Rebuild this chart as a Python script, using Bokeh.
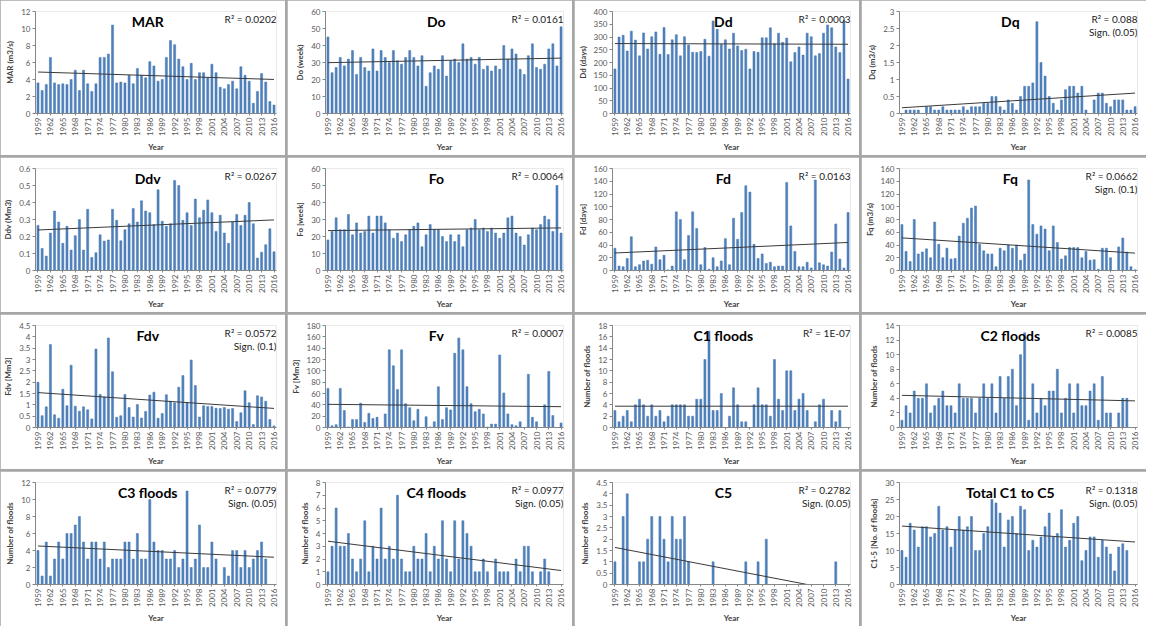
import numpy as np
from bokeh.plotting import figure
from bokeh.layouts import gridplot
from bokeh.models import Label, FixedTicker, Range1d, ColumnDataSource, NumeralTickFormatter
from bokeh.embed import file_html
from bokeh.resources import INLINE

# Years of record and the labelled years on every x axis
years = list(range(1959, 2017))
tick_years = list(range(1959, 2017, 3))

# Annual series, 1959-2016 (None = no value for that year)
mar = [3.6, 2.7, 3.4, 6.6, 3.6, 3.4, 3.5, 3.4, 4.0, 5.1, 2.7, 5.1, 3.5, 2.6, 3.5, 6.6, 6.6, 7.0, 10.4, 3.6,
       3.7, 3.6, 4.5, 3.5, 5.3, 4.5, 4.2, 6.1, 5.6, 3.8, 4.0, 6.6, 8.6, 8.1, 6.4, 5.5, 4.0, 5.9, 4.0, 4.8,
       4.8, 4.2, 5.8, 4.8, 3.1, 2.9, 3.4, 3.8, 2.9, 5.5, 4.5, 3.8, 1.2, 2.6, 4.7, 3.7, 1.4, 1.0]
do_weeks = [45, 24, 27, 33, 28, 32, 37, 23, 33, 27, 25, 38, 25, 37, 33, 30, 37, 31, 29, 33,
            37, 33, 28, 34, 16, 24, 28, 26, 34, 22, 31, 32, 30, 41, 32, 33, 29, 33, 26, 28,
            25, 28, 26, 40, 32, 38, 35, 26, 23, 34, 41, 27, 26, 29, 38, 41, 28, 51]
dd_days = [175, 300, 307, 245, 323, 288, 226, 316, 253, 301, 320, 232, 337, 231, 289, 309, 226, 301, 269, 240,
           239, 243, 291, 225, 363, 330, 271, 289, 253, 315, 265, 247, 252, 175, 243, 240, 297, 297, 336, 274,
           315, 279, 296, 203, 239, 261, 229, 315, 301, 226, 235, 315, 347, 336, 261, 239, 365, 135]
dq = [0, 0.1, 0.1, 0.1, 0.1, 0, 0.2, 0.2, 0.1, 0.1, 0.2, 0.1, 0.1, 0.1, 0.1, 0.2, 0.1, 0.2, 0.2, 0.2,
      0.3, 0.3, 0.5, 0.5, 0.2, 0.1, 0.4, 0.3, 0.1, 0.5, 0.8, 0.8, 0.9, 2.7, 1.5, 1.1, 0.5, 0.3, 0.1, 0.4,
      0.7, 0.8, 0.8, 0.6, 0.8, 0.1, 0, 0.4, 0.6, 0.6, 0.3, 0.2, 0.4, 0.4, 0.4, 0.1, 0.1, 0.2]
ddv = [0.265, 0.13, 0.085, 0.22, 0.35, 0.285, 0.16, 0.26, 0.12, 0.205, 0.30, 0.12, 0.36, 0.077, 0.105, 0.21,
       0.173, 0.18, 0.36, 0.295, 0.175, 0.24, 0.275, 0.365, 0.285, 0.41, 0.35, 0.34, 0.27, 0.475, 0.29, 0.26,
       0.275, 0.53, 0.50, 0.295, 0.34, 0.265, 0.42, 0.31, 0.355, 0.415, 0.34, 0.23, 0.325, 0.22, 0.16, 0.285,
       0.33, 0.265, 0.325, 0.40, 0.275, 0.073, 0.108, 0.152, 0.245, 0.11]
fo_weeks = [18, 23, 31, 24, 24, 33, 21, 28, 22, 23, 32, 22, 32, 32, 28, 24, 19, 22, 17, 21,
            24, 26, 28, 14, 21, 27, 24, 24, 20, 17, 21, 17, 21, 14, 24, 25, 30, 24, 25, 23,
            25, 22, 19, 22, 31, 32, 22, 20, 15, 21, 25, 24, 27, 32, 30, 23, 50, 22]
fd_days = [35, 7, 6, 19, 53, 6, 9, 15, 16, 10, 37, 17, 24, 1, 7, 92, 80, 17, 55, 92,
           66, 9, 36, 2, 20, 6, 15, 50, 9, 82, 49, 91, 133, 123, 41, 19, 26, 11, 13, 6,
           7, 7, 138, 70, 30, 6, 6, 13, 4, 142, 12, 9, 7, 29, 73, 18, 4, 91]
fq = [72, 30, 14, 80, 26, 29, 34, 20, 76, 41, 20, 35, 18, 19, 54, 74, 82, 98, 101, 41,
      31, 26, 26, 6, 35, 31, 40, 35, 40, 16, 26, 142, 72, 57, 70, 65, 31, 70, 44, 18,
      23, 36, 36, 36, 20, 30, 16, 17, 2, 35, 35, 20, 0, 37, 51, 29, 6, 1]
fdv = [2.0, 0.52, 0.91, 3.66, 0.56, 0.41, 1.69, 0.96, 2.75, 0.94, 0.72, 0.91, 0.78, 0.38, 3.46, 1.46,
       1.35, 3.95, 2.46, 0.45, 0.52, 1.46, 0.88, 0.46, 1.01, 0.42, 0.71, 1.43, 1.56, 0.41, 0.62, 1.45,
       1.16, 1.09, 1.78, 2.29, 1.09, 2.98, 1.85, 0.46, 0.96, 0.93, 0.93, 0.85, 0.84, 0.88, 0.81, 0.84,
       0.26, 0.65, 1.62, 1.09, 0.13, 1.40, 1.35, 1.16, 0.35, 0.07]
fv = [69, 3, 5, 69, 30, 1, 14, 14, 43, 9, 25, 16, 18, 0, 24, 137, 109, 67, 137, 42,
      35, 12, 32, 0, 19, 1, 10, 72, 14, 35, 31, 131, 158, 137, 72, 42, 28, 32, 24, 1,
      6, 6, 128, 61, 24, 5, 3, 10, 0, 94, 18, 10, 0, 40, 99, 21, 0, 8]
c1_floods = [3, 1, 2, 3, 1, 4, 5, 4, 2, 4, 2, 3, 1, 2, 4, 4, 4, 4, 2, 2,
             5, 5, 12, 17, 3, 3, 6, 0, 2, 7, 4, 1, 1, 0, 4, 7, 4, 4, 2, 12,
             5, 3, 10, 10, 3, 5, 6, 3, 0, 1, 4, 5, 0, 3, 1, 3, 0, 0]
c2_floods = [1, 3, 2, 5, 4, 4, 6, 2, 3, 4, 5, 3, 3, 2, 6, 4, 4, 4, 2, 4,
             6, 4, 6, 2, 7, 4, 7, 8, 3, 10, 13, 1, 6, 2, 4, 3, 5, 5, 8, 2,
             4, 6, 2, 6, 3, 3, 5, 6, 1, 7, 2, 2, 0, 2, 4, 4, 0, 0]
c3_floods = [4, 1, 5, 1, 3, 5, 3, 6, 6, 7, 8, 5, 3, 5, 5, 3, 5, 2, 3, 3,
             3, 5, 5, 3, 6, 3, 3, 10, 5, 4, 4, 3, 3, 4, 2, 3, 11, 2, 3, 7,
             2, 2, 5, 3, 0, 2, 1, 4, 4, 2, 4, 2, 3, 4, 5, 3, None, None]
c4_floods = [1, 3, 6, 3, 3, 4, 2, 1, 2, 5, 1, 3, 2, 6, 2, 3, 2, 7, 2, 1,
             1, 3, 2, 2, 4, 1, 3, 2, 5, 2, 1, 5, 2, 5, 4, 3, 1, 1, 2, 1,
             0, 2, 1, 1, 1, 0, 2, 1, 3, 3, 1, 0, 1, 2, 1, 0, None, None]
c5_floods = [1, 0, 3, 4, 0, 0, 1, 1, 2, 3, 0, 3, 2, 1, 3, 2, 2, 3, 1, 0,
             0, 0, 0, 0, 1, 0, 0, 0, 0, 0, 0, 0, 1, 0, 0, 1, 0, 2, 0, 0,
             0, 0, 0, 0, 0, 0, 0, 0, 0, 0, 0, 0, 0, 0, 1, 0, None, None]
total_floods = [10, 8, 18, 16, 11, 17, 17, 14, 15, 23, 16, 17, 11, 16, 20, 16, 17, 20, 10, 10,
                15, 17, 25, 24, 21, 11, 19, 20, 15, 23, 22, 10, 13, 11, 14, 17, 21, 14, 15, 22,
                11, 13, 18, 20, 7, 10, 14, 14, 8, 13, 11, 9, 4, 11, 12, 10, None, None]

# Panel titles, y-axis labels, axis limits and fit annotations
titles = ["MAR", "Do", "Dd", "Dq", "Ddv", "Fo", "Fd", "Fq",
          "Fdv", "Fv", "C1 floods", "C2 floods", "C3 floods", "C4 floods", "C5", "Total C1 to C5"]
series = [mar, do_weeks, dd_days, dq, ddv, fo_weeks, fd_days, fq,
          fdv, fv, c1_floods, c2_floods, c3_floods, c4_floods, c5_floods, total_floods]
y_labels = ["MAR (m3/s)", "Do (week)", "Dd (days)", "Dq (m3/s)", "Ddv (Mm3)", "Fo [week]", "Fd [days]", "Fq (m3/s)",
            "Fdv [Mm3]", "Fv [Mm3]", "Number of floods", "Number of floods", "Number of floods",
            "Number of floods", "Number of floods", "C1-5 [No. of floods]"]
y_max = [12, 60, 400, 3, 0.6, 60, 160, 160, 4.5, 180, 18, 14, 12, 8, 4.5, 30]
y_step = [2, 10, 50, 0.5, 0.1, 10, 20, 20, 0.5, 20, 2, 2, 2, 1, 0.5, 5]
r_squared = ["0.0202", "0.0161", "0.0003", "0.088", "0.0267", "0.0064", "0.0163", "0.0662",
             "0.0572", "0.0007", "1E-07", "0.0085", "0.0779", "0.0977", "0.2782", "0.1318"]
significance = [None, None, None, "0.05", None, None, None, "0.1",
                "0.1", None, None, None, "0.05", "0.05", "0.05", "0.05"]

FONT = "Lato"
BAR = "#4F81BD"
BAR_EDGE = "#4576B0"
AXIS = "#868686"
LABEL = "#595959"


def make_panel(title, values, ylab, ymax, ystep, r2, sign):
    vals = np.array([np.nan if v is None else v for v in values], dtype=float)
    yrs = np.array(years, dtype=float)

    p = figure(width=285, height=155, output_backend="svg", toolbar_location=None,
               x_range=Range1d(1958.4, 2016.6), y_range=Range1d(0, ymax),
               min_border_left=34, min_border_right=9, min_border_top=11, min_border_bottom=36)
    p.outline_line_color = None
    p.grid.grid_line_color = None
    p.background_fill_color = "white"
    p.border_fill_color = "white"

    src = ColumnDataSource(dict(year=yrs, value=vals))
    p.vbar(x="year", top="value", width=0.5, source=src,
           fill_color=BAR, line_color=BAR_EDGE, line_width=0.5)

    # least-squares linear trend over the years that have a value
    ok = ~np.isnan(vals)
    slope, icpt = np.polyfit(yrs[ok], vals[ok], 1)
    ends = np.array([years[0], years[-1]], dtype=float)
    p.line(x=ends, y=slope * ends + icpt, line_color="#3a3a3a", line_width=1)

    # x axis: every third year, written vertically
    p.xaxis.ticker = FixedTicker(ticks=tick_years)
    p.xaxis.major_label_orientation = np.pi / 2
    p.xaxis.axis_label = "Year"
    p.xaxis.minor_tick_line_color = None
    p.xaxis.major_tick_in = 0
    p.xaxis.major_tick_out = 2

    # y axis
    ticks = [round(float(t), 4) for t in np.arange(0, ymax + ystep / 2, ystep)]
    p.yaxis.ticker = FixedTicker(ticks=ticks)
    p.yaxis.formatter = NumeralTickFormatter(format="0.[0]")
    p.yaxis.axis_label = ylab
    p.yaxis.minor_tick_line_color = None
    p.yaxis.major_tick_in = 0
    p.yaxis.major_tick_out = 3

    for ax in (p.xaxis, p.yaxis):
        ax.axis_line_color = AXIS
        ax.major_tick_line_color = AXIS
        ax.major_label_text_font = FONT
        ax.major_label_text_font_size = "8px"
        ax.major_label_text_color = LABEL
        ax.major_label_standoff = 2
        ax.axis_label_text_font = FONT
        ax.axis_label_text_font_size = "8px"
        ax.axis_label_text_font_style = "bold"
        ax.axis_label_text_color = "#404040"
        ax.axis_label_standoff = 3

    p.add_layout(Label(x=1985.5, y=ymax * 0.985, text=title, text_align="center", text_baseline="top",
                       text_font=FONT, text_font_size="14px", text_font_style="bold", text_color="black"))
    p.add_layout(Label(x=2016.6, y=ymax * 0.985, text="R\u00b2 = " + r2, text_align="right",
                       text_baseline="top", text_font=FONT, text_font_size="10px", text_color="#222222"))
    if sign:
        p.add_layout(Label(x=2016.6, y=ymax * 0.86, text="Sign. (" + sign + ")", text_align="right",
                           text_baseline="top", text_font=FONT, text_font_size="10px", text_color="#222222"))
    return p


panels = [make_panel(*args) for args in zip(titles, series, y_labels, y_max, y_step, r_squared, significance)]
rows = [panels[i:i + 4] for i in range(0, 16, 4)]

grid = gridplot(rows, toolbar_location=None)
grid.spacing = 2
grid.styles = {"background-color": "#a6a6a6"}

open("out.html", "w").write(file_html(grid, INLINE))
